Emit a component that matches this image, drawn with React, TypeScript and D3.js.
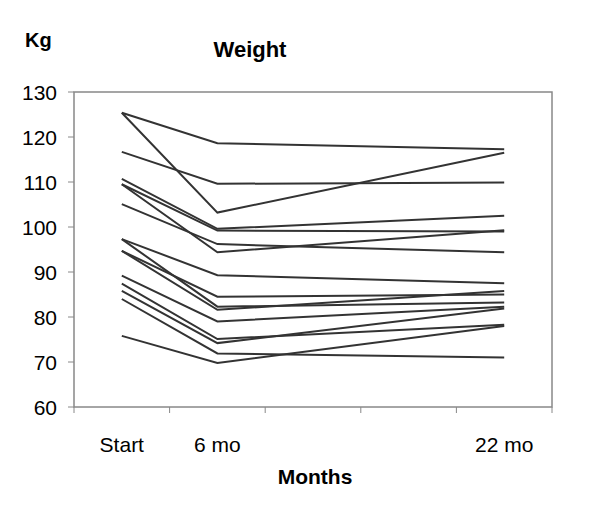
import React from "react";
import * as d3 from "d3";

const categories = ["Start", "6 mo", "", "", "22 mo"];
const measuredAt = [0, 1, 4]; // category index of each measurement
const startKg = [125.4, 125.4, 116.7, 110.7, 109.5, 109.5, 105.1, 97.3, 97.3, 94.7, 94.7, 89.2, 87.4, 85.8, 84.0, 75.8];
const sixMonthKg = [118.6, 103.2, 109.6, 99.6, 99.2, 94.4, 96.2, 89.3, 82.3, 84.5, 81.6, 79.0, 75.1, 74.2, 71.9, 69.8];
const twentyTwoMonthKg = [117.3, 116.5, 109.9, 102.5, 99.0, 99.3, 94.4, 87.5, 83.2, 85.0, 85.8, 82.3, 78.3, 81.9, 71.0, 78.0];
const yTicks = [60, 70, 80, 90, 100, 110, 120, 130];

const W = 600;
const H = 516;
const left = 74, right = 552, top = 92, bottom = 407;
const font = "'Liberation Sans', Arial, sans-serif";

export default function App() {
  const x = d3.scaleBand<number>().domain(categories.map((_, i) => i)).range([left, right]).padding(0);
  const xc = (i: number) => (x(i) as number) + x.bandwidth() / 2;
  const y = d3.scaleLinear().domain([60, 130]).range([bottom, top]);
  const line = d3.line<[number, number]>().x((d) => xc(d[0])).y((d) => y(d[1]));
  const series = startKg.map((s, k) => [s, sixMonthKg[k], twentyTwoMonthKg[k]]);
  const tickXs = d3.range(categories.length + 1).map((i) => left + i * x.bandwidth());

  return (
    <svg width={W} height={H} style={{ position: "absolute", left: 0, top: 0, background: "#fff" }} fontFamily={font}>
      <rect x={0} y={0} width={W} height={H} fill="#fff" />
      <text x={25} y={47} fontSize={20} fontWeight="bold" fill="#000">Kg</text>
      <text x={250} y={57} fontSize={22} fontWeight="bold" textAnchor="middle" fill="#000">Weight</text>
      {yTicks.map((t) => (
        <g key={t}>
          <line x1={68} x2={left} y1={y(t)} y2={y(t)} stroke="#888" strokeWidth={1} />
          <text x={57} y={y(t) + 7.5} fontSize={21} textAnchor="end" fill="#000">{t}</text>
        </g>
      ))}
      {tickXs.map((tx, i) => (
        <line key={i} x1={tx} x2={tx} y1={bottom} y2={bottom + 6} stroke="#888" strokeWidth={1} />
      ))}
      <rect x={left} y={top} width={right - left} height={bottom - top} fill="none" stroke="#888" strokeWidth={1.5} />
      {categories.map((c, i) =>
        c ? (
          <text key={i} x={xc(i)} y={452} fontSize={21} textAnchor="middle" fill="#000">{c}</text>
        ) : null
      )}
      <text x={315} y={484} fontSize={21} fontWeight="bold" textAnchor="middle" fill="#000">Months</text>
      {series.map((vals, k) => (
        <path
          key={k}
          d={line(vals.map((v, j) => [measuredAt[j], v] as [number, number])) as string}
          fill="none"
          stroke="#333"
          strokeWidth={2}
        />
      ))}
    </svg>
  );
}
